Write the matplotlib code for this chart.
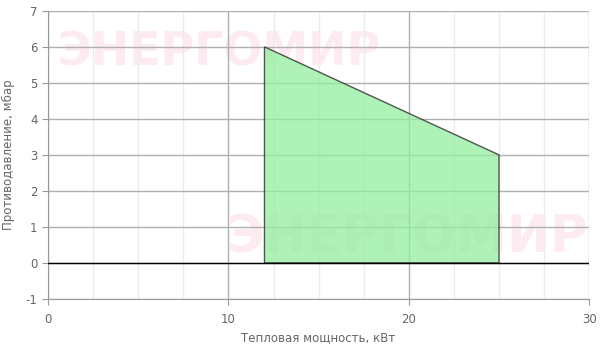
import matplotlib as mpl
mpl.use('Agg')
import matplotlib.pyplot as plt
from matplotlib.ticker import MultipleLocator

# working field of the burner
power_kw = [12, 12, 25, 25]
pressure_mbar = [0, 6, 3, 0]

x_ticks = [0, 10, 20, 30]
y_ticks = [-1, 0, 1, 2, 3, 4, 5, 6, 7]

plt.rcParams['font.family'] = ['DejaVu Sans']
plt.rcParams['axes.unicode_minus'] = False

fig = plt.figure(figsize=(6.0, 3.5), dpi=100)
ax = fig.add_axes([0.08, 0.146, 0.902, 0.823])

ax.set_xlim(0, 30)
ax.set_ylim(-1, 7)
ax.set_xticks(x_ticks)
ax.set_yticks(y_ticks)
ax.xaxis.set_minor_locator(MultipleLocator(2.5))

ax.grid(True, which='major', color='#b0b0b0', linewidth=1.0)
ax.grid(True, which='minor', axis='x', color='#ececec', linewidth=1.0)
ax.set_axisbelow(True)

for s in ['top', 'right']:
    ax.spines[s].set_visible(False)
for s in ['left', 'bottom']:
    ax.spines[s].set_color('#999999')

ax.tick_params(axis='both', which='major', colors='#666666', labelsize=8.5,
               length=4, color='#999999')
ax.tick_params(axis='x', which='minor', length=0)
ax.tick_params(axis='x', pad=6)

# watermarks
wm = dict(fontweight='bold', color='#fdebef', ha='left', va='center', zorder=0)
ax.text(0.5, 5.83, 'ЭНЕРГОМИР', fontsize=33, **wm)
ax.text(9.9, 0.68, 'ЭНЕРГОМИР', fontsize=37, **wm)

ax.fill(power_kw, pressure_mbar, facecolor='#93ee9f', alpha=0.75,
        edgecolor='#222222', linewidth=1.0, zorder=2)
ax.axhline(0, color='black', linewidth=1.0, zorder=3)

ax.set_xlabel('Тепловая мощность, кВт', color='#666666', fontsize=8.5, labelpad=4)
ax.set_ylabel('Противодавление, мбар', color='#666666', fontsize=8.5, labelpad=8)

fig.savefig('out.png', dpi=100)
